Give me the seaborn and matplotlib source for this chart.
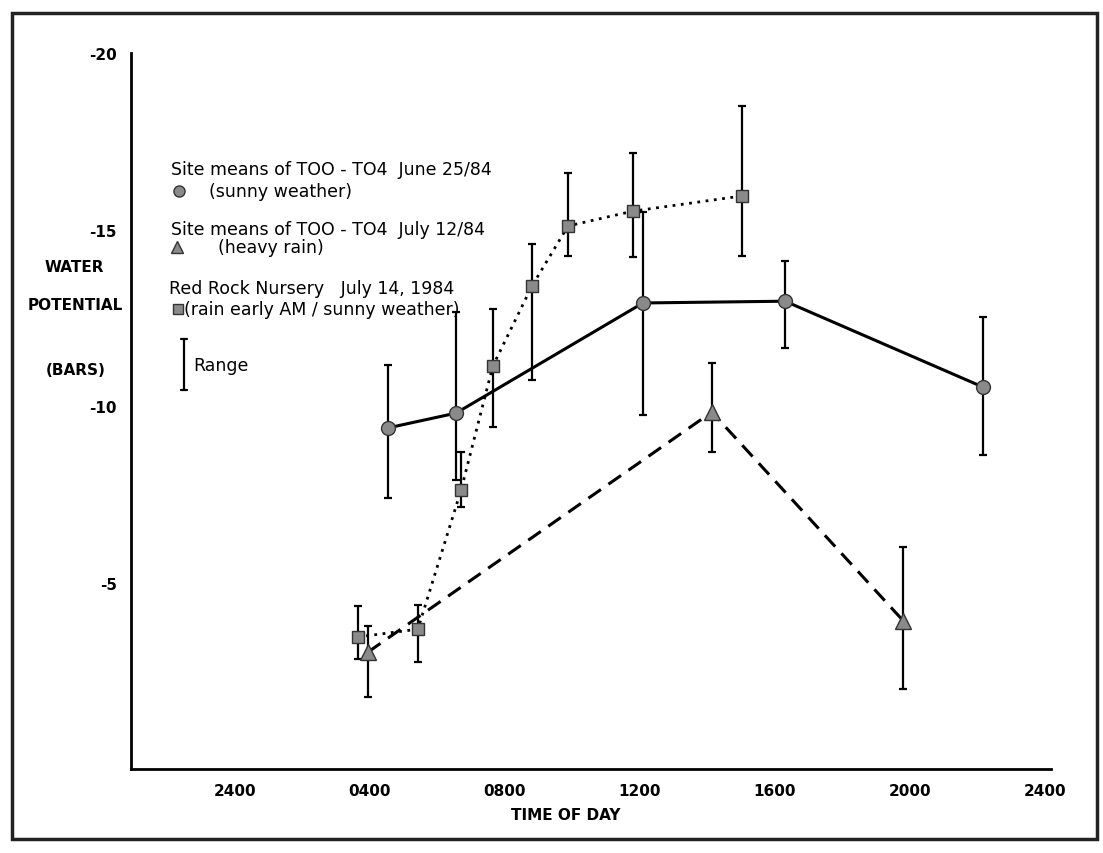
import seaborn as sns
import numpy as np
import pandas as pd
import matplotlib.pyplot as plt
from matplotlib.patches import Rectangle

# data (hours after midnight, water potential in bars)
sunny_hour = [4.53, 6.55, 12.09, 16.30, 22.16]
sunny_mean = [-9.38, -9.80, -12.92, -12.97, -10.54]
sunny_top = [-11.16, -12.66, -15.50, -14.10, -12.52]
sunny_bottom = [-7.40, -7.90, -9.74, -11.64, -8.60]

rain_hour = [3.94, 14.13, 19.80]
rain_mean = [-3.03, -9.83, -3.92]
rain_top = [-3.77, -11.22, -6.00]
rain_bottom = [-1.76, -8.70, -2.00]

nursery_hour = [3.64, 5.42, 6.70, 7.64, 8.80, 9.87, 11.79, 15.02]
nursery_mean = [-3.46, -3.68, -7.62, -11.13, -13.40, -15.10, -15.52, -15.95]
nursery_top = [-4.33, -4.36, -8.70, -12.75, -14.60, -16.60, -17.17, -18.50]
nursery_bottom = [-2.83, -2.75, -7.14, -9.40, -10.74, -14.25, -14.22, -14.25]

x_ticks = [0, 4, 8, 12, 16, 20, 24]
x_labels = ['2400', '0400', '0800', '1200', '1600', '2000', '2400']
y_ticks = [-20, -15, -10, -5]
y_labels = ['-20', '-15', '-10', '-5']

sns.set_style('white')
plt.rcParams['font.family'] = ['DejaVu Sans']
plt.rcParams['text.color'] = 'black'

W, H = 1103, 854
fig = plt.figure(figsize=(W / 100, H / 100), dpi=100)


def fx(px):
    return px / W


def fy(py):
    return 1 - py / H


ax = fig.add_axes([fx(131), fy(770), (1051 - 131) / W, (770 - 54) / H])

grey = '#8a8a8a'
edge = '#333333'


def ranges(mean, top, bottom):
    m = np.array(mean)
    return [m - np.array(top), np.array(bottom) - m]


# sunny weather - solid line, circles
sns.lineplot(x=sunny_hour, y=sunny_mean, ax=ax, color='black', linewidth=2.2,
             marker='o', markersize=10, markerfacecolor=grey,
             markeredgecolor=edge, markeredgewidth=1, zorder=3)
ax.errorbar(sunny_hour, sunny_mean, yerr=ranges(sunny_mean, sunny_top, sunny_bottom),
            fmt='none', ecolor='black', elinewidth=1.6, capsize=3, capthick=1.6)

# heavy rain - dashed line, triangles
sns.lineplot(x=rain_hour, y=rain_mean, ax=ax, color='black', linewidth=2.2,
             marker='^', markersize=11, markerfacecolor=grey,
             markeredgecolor=edge, markeredgewidth=1, zorder=3)
ax.lines[-1].set_dashes([5, 3])
ax.errorbar(rain_hour, rain_mean, yerr=ranges(rain_mean, rain_top, rain_bottom),
            fmt='none', ecolor='black', elinewidth=1.6, capsize=3, capthick=1.6)

# red rock nursery - dotted line, squares
sns.lineplot(x=nursery_hour, y=nursery_mean, ax=ax, color='black', linewidth=2,
             marker='s', markersize=9, markerfacecolor=grey,
             markeredgecolor=edge, markeredgewidth=1, zorder=3)
ax.lines[-1].set_dashes([1, 2])
ax.errorbar(nursery_hour, nursery_mean, yerr=ranges(nursery_mean, nursery_top, nursery_bottom),
            fmt='none', ecolor='black', elinewidth=1.6, capsize=3, capthick=1.6)

ax.set_xlim(-3.08, 24.18)
ax.set_ylim(0.28, -20)
ax.set_xticks(x_ticks)
ax.set_xticklabels(x_labels)
ax.set_yticks(y_ticks)
ax.set_yticklabels(y_labels)
ax.tick_params(axis='both', direction='out', length=6, width=1.5,
               labelsize=11, colors='black', pad=4)
for lab in ax.get_xticklabels() + ax.get_yticklabels():
    lab.set_fontweight('bold')
for side in ['top', 'right']:
    ax.spines[side].set_visible(False)
for side in ['left', 'bottom']:
    ax.spines[side].set_linewidth(2)
    ax.spines[side].set_color('black')
ax.set_xlabel('')
ax.set_ylabel('')

# axis titles
tfs = 11
fig.text(fx(566), fy(816), 'TIME OF DAY', ha='center', va='center', fontsize=tfs, fontweight='bold')
fig.text(fx(74), fy(268), 'WATER', ha='center', va='center', fontsize=tfs, fontweight='bold')
fig.text(fx(75), fy(306), 'POTENTIAL', ha='center', va='center', fontsize=tfs, fontweight='bold')
fig.text(fx(76), fy(371), '(BARS)', ha='center', va='center', fontsize=tfs, fontweight='bold')

# hand-made legend
lfs = 12.5
fig.text(fx(171), fy(170), 'Site means of TOO - TO4  June 25/84', va='center', fontsize=lfs)
ax.plot([fx(179)], [fy(192)], transform=fig.transFigure, clip_on=False, marker='o',
        markersize=8, markerfacecolor=grey, markeredgecolor=edge, linestyle='none')
fig.text(fx(209), fy(192), '(sunny weather)', va='center', fontsize=lfs)
fig.text(fx(171), fy(230), 'Site means of TOO - TO4  July 12/84', va='center', fontsize=lfs)
ax.plot([fx(177)], [fy(248)], transform=fig.transFigure, clip_on=False, marker='^',
        markersize=9, markerfacecolor=grey, markeredgecolor=edge, linestyle='none')
fig.text(fx(218), fy(248), '(heavy rain)', va='center', fontsize=lfs)
fig.text(fx(169), fy(289), 'Red Rock Nursery   July 14, 1984', va='center', fontsize=lfs)
ax.plot([fx(178)], [fy(310)], transform=fig.transFigure, clip_on=False, marker='s',
        markersize=7, markerfacecolor=grey, markeredgecolor=edge, linestyle='none')
fig.text(fx(184), fy(310), '(rain early AM / sunny weather)', va='center', fontsize=lfs)
ax.plot([fx(184), fx(184)], [fy(340), fy(391)], transform=fig.transFigure,
        clip_on=False, color='black', linewidth=1.6)
for yy in [340, 391]:
    ax.plot([fx(181), fx(187)], [fy(yy), fy(yy)], transform=fig.transFigure,
            clip_on=False, color='black', linewidth=1.6)
fig.text(fx(193), fy(366), 'Range', va='center', fontsize=lfs)

# scanned page border
fig.patches.append(Rectangle((fx(12), fy(840)), (1097 - 12) / W, (840 - 14) / H,
                             transform=fig.transFigure, fill=False,
                             edgecolor='#222222', linewidth=2.5))

plt.savefig('out.png', dpi=100)
